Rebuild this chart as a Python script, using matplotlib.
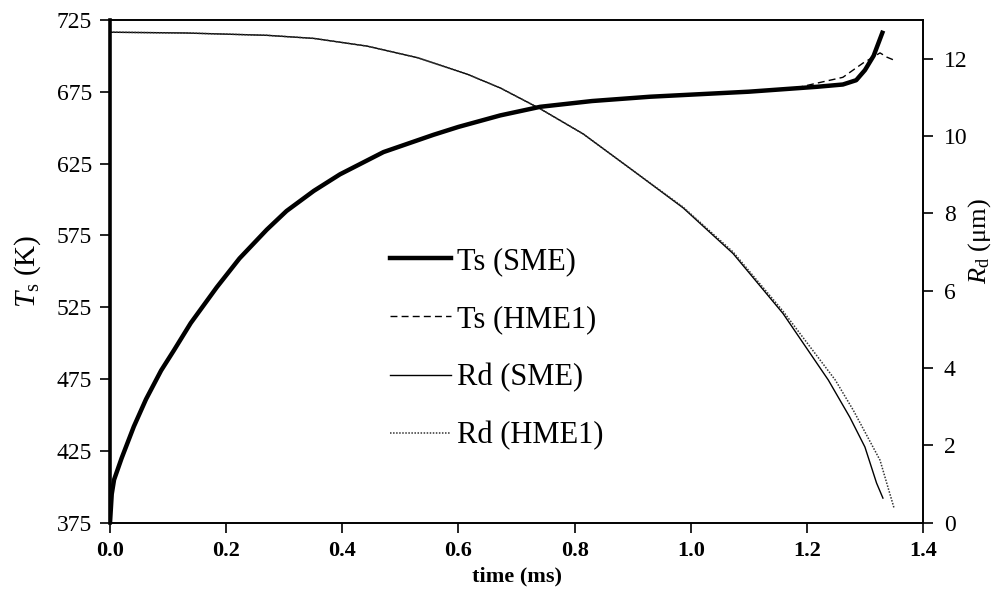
import matplotlib
matplotlib.use('Agg')
import matplotlib.pyplot as plt

plt.rcParams['font.family'] = ['Liberation Serif', 'DejaVu Serif']
plt.rcParams['mathtext.fontset'] = 'custom'
plt.rcParams['mathtext.rm'] = 'Liberation Serif'
plt.rcParams['mathtext.it'] = 'Liberation Serif:italic'

# surface temperature, SME
t_ts_sme = [0, 0.003, 0.007, 0.02, 0.041, 0.062, 0.088, 0.11, 0.139, 0.184, 0.223,
            0.27, 0.304, 0.351, 0.396, 0.471, 0.557, 0.6, 0.672, 0.741, 0.83, 0.93,
            1.10, 1.217, 1.262, 1.285, 1.30, 1.315, 1.33]
ts_sme = [375, 395, 405, 420, 442, 461, 481, 495, 514, 539, 559,
          579, 592, 606, 617.5, 633, 645, 650.5, 658.5, 664.5, 668.5, 671.5,
          675, 678.4, 680, 683, 690, 700, 716]

# surface temperature, HME1
t_ts_hme = [0, 0.003, 0.007, 0.02, 0.041, 0.062, 0.088, 0.11, 0.139, 0.184, 0.223,
            0.27, 0.304, 0.351, 0.396, 0.471, 0.557, 0.6, 0.672, 0.741, 0.83, 0.93,
            1.10, 1.18, 1.218, 1.262, 1.297, 1.314, 1.326, 1.338, 1.35]
ts_hme = [375, 395, 405, 420, 442, 461, 481, 495, 514, 539, 559,
          579, 592, 606, 617.5, 633, 645, 650.5, 658.5, 664.5, 668.5, 671.5,
          675, 677.5, 681, 685, 695, 699, 702, 699, 697]

# droplet radius, SME
t_rd_sme = [0, 0.13, 0.27, 0.351, 0.443, 0.53, 0.616, 0.672, 0.741, 0.815, 0.901,
            0.987, 1.073, 1.159, 1.237, 1.274, 1.30, 1.32, 1.331]
rd_sme = [12.68, 12.66, 12.6, 12.52, 12.32, 12.02, 11.59, 11.24, 10.7, 10.05, 9.1,
          8.14, 6.96, 5.41, 3.69, 2.73, 1.96, 1.03, 0.64]

# droplet radius, HME1
t_rd_hme = [0, 0.13, 0.27, 0.351, 0.443, 0.53, 0.616, 0.672, 0.741, 0.815, 0.901,
            0.987, 1.073, 1.159, 1.249, 1.28, 1.326, 1.35]
rd_hme = [12.68, 12.66, 12.6, 12.52, 12.32, 12.02, 11.59, 11.24, 10.7, 10.05, 9.1,
          8.16, 7.0, 5.47, 3.69, 2.91, 1.62, 0.39]

x_ticks = [0.0, 0.2, 0.4, 0.6, 0.8, 1.0, 1.2, 1.4]
ts_ticks = [375, 425, 475, 525, 575, 625, 675, 725]
rd_ticks = [0, 2, 4, 6, 8, 10, 12]

fig = plt.figure(figsize=(10, 6.01), dpi=100)
ax = fig.add_axes([0.11, 0.13, 0.813, 0.837])
ax2 = ax.twinx()

l1, = ax.plot(t_ts_sme, ts_sme, color='black', lw=3.2, label='Ts (SME)')
l2, = ax.plot(t_ts_hme, ts_hme, color='black', lw=1, linestyle=(0, (5, 3)), label='Ts (HME1)')
l3, = ax2.plot(t_rd_sme, rd_sme, color='black', lw=1, label='Rd (SME)')
l4, = ax2.plot(t_rd_hme, rd_hme, color='#333333', lw=1.1, linestyle=(0, (1, 1)), label='Rd (HME1)')
ax.set_zorder(ax2.get_zorder() + 1)
ax.patch.set_visible(False)

ax.set_xlim(0, 1.4)
ax.set_ylim(375, 725)
ax2.set_ylim(0, 13)
ax.set_xticks(x_ticks)
ax.set_xticklabels(['%.1f' % v for v in x_ticks], fontsize=16, fontweight='bold')
ax.set_yticks(ts_ticks)
ax.set_yticklabels([str(v) for v in ts_ticks], fontsize=17)
ax2.set_yticks(rd_ticks)
ax2.set_yticklabels([str(v) for v in rd_ticks], fontsize=17)

for a in (ax, ax2):
    for s in a.spines.values():
        s.set_linewidth(1.2)
ax.spines['left'].set_linewidth(2.6)
ax2.spines['left'].set_visible(False)
ax.tick_params(direction='out', length=7, width=1.2, pad=6)
ax2.tick_params(direction='out', length=7, width=1.2, pad=8)

ax.set_xlabel('time (ms)', fontsize=16, fontweight='bold', labelpad=4)
ax.set_ylabel(r'$T_\mathrm{s}$ (K)', fontsize=21, labelpad=10)
ax2.set_ylabel(r'$R_\mathrm{d}$ (μm)', fontsize=19)
ax2.yaxis.set_label_coords(1.053, 0.56)

ax.legend(handles=[l1, l2, l3, l4], loc='center left', bbox_to_anchor=(0.344, 0.346),
          frameon=False, fontsize=22, handlelength=2.0, handletextpad=0.2,
          labelspacing=0.95, borderpad=0, borderaxespad=0)

fig.savefig('out.png', dpi=100)
